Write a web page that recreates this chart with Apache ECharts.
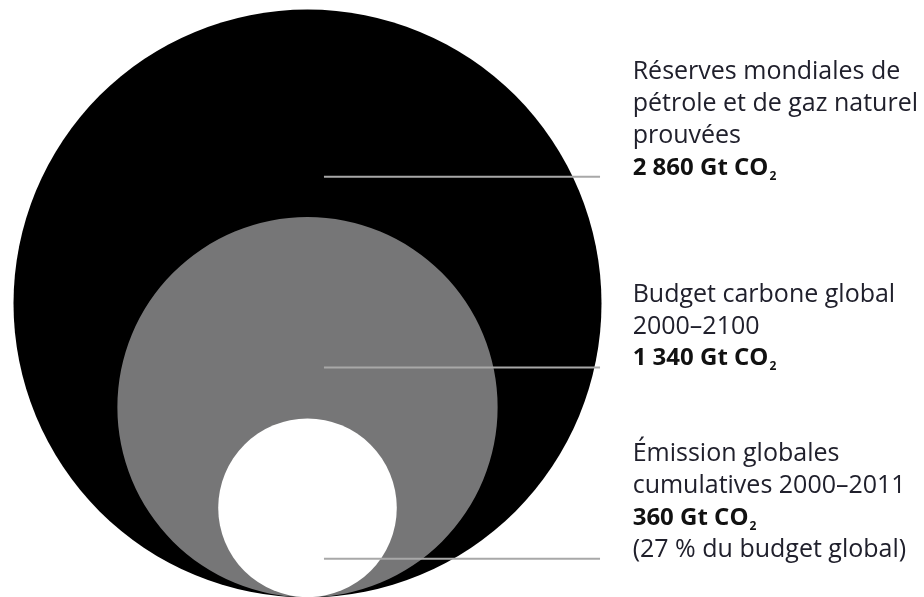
<!DOCTYPE html>
<html><head><meta charset="utf-8">
<script src="https://cdn.jsdelivr.net/npm/echarts@6/dist/echarts.min.js"></script>
<style>html,body{margin:0;padding:0;background:#fff}#c{width:924px;height:597px}</style>
</head><body><div id="c"></div>
<script>
// ---- data ----
const categories = ['Réserves mondiales de pétrole et de gaz naturel prouvées', 'Budget carbone global 2000–2100', 'Émission globales cumulatives 2000–2011'];
const descriptionLines = [
  ['Réserves mondiales de', 'pétrole et de gaz naturel', 'prouvées'],
  ['Budget carbone global', '2000–2100'],
  ['Émission globales', 'cumulatives 2000–2011']
];
const valuesGtCO2 = [2860, 1340, 360];
const unitLabel = 'Gt CO';
const unitSub = '2';
const shareNote = ['', '', '({p} % du budget global)'];

// ---- layout / style (not data) ----
const fills = ['#000000', '#767677', '#ffffff'];
const layout = {
  sizeExponent: 0.575,          // diameter ~ value^0.575
  leaderY: [0.716, 0.391, 0.065],
  leaderX0: 0.028, leaderX1: 0.4975, textX: 0.553
};
const maxV = Math.max.apply(null, valuesGtCO2);
function fmt(v) { return String(v).replace(/\B(?=(\d{3})+(?!\d))/g, ' '); }

const chart = echarts.init(document.getElementById('c'), null, {renderer: 'canvas'});
chart.setOption({
  animation: false,
  backgroundColor: '#ffffff',
  grid: {left: 13.5, top: 10, width: 588, height: 588},
  xAxis: {type: 'value', min: -0.5, max: 0.5, show: false},
  yAxis: {type: 'value', min: 0, max: 1, show: false},
  series: [{
    type: 'custom',
    coordinateSystem: 'cartesian2d',
    clip: false,
    data: valuesGtCO2.map((v, i) => ({name: categories[i], value: [v]})),
    encode: {x: [], y: []},
    renderItem: function (params, api) {
      const i = params.dataIndex;
      const v = api.value(0);
      const d = Math.pow(v / maxV, layout.sizeExponent);
      const c = api.coord([0, d / 2]);
      const r = api.size([d / 2, d / 2])[0];
      const ly = api.coord([0, layout.leaderY[i]])[1];
      const lx0 = api.coord([layout.leaderX0, 0])[0];
      const lx1 = api.coord([layout.leaderX1, 0])[0];
      const tx = api.coord([layout.textX, 0])[0];
      const lines = descriptionLines[i].slice();
      lines.push('{b|' + fmt(v) + ' ' + unitLabel + '}{s|' + unitSub + '}');
      if (shareNote[i]) {
        lines.push(shareNote[i].replace('{p}', Math.round(v / valuesGtCO2[1] * 100)));
      }
      return {
        type: 'group',
        children: [
          {type: 'circle', shape: {cx: c[0], cy: c[1], r: r}, style: {fill: fills[i]}},
          {type: 'line', shape: {x1: lx0, y1: ly, x2: lx1, y2: ly}, style: {stroke: '#a8a8a8', lineWidth: 2}},
          {type: 'text', style: {
            x: tx, y: ly + 7, text: lines.join('\n'),
            align: 'left', verticalAlign: 'bottom',
            fontFamily: 'Open Sans', fontSize: 25, fontWeight: 500, lineHeight: 32, fill: '#20202c',
            rich: {
              b: {fontFamily: 'Open Sans', fontSize: 24, fontWeight: 'bold', lineHeight: 32, fill: '#111111'},
              s: {fontFamily: 'Open Sans', fontSize: 12, fontWeight: 'bold', lineHeight: 12, padding: [17, 0, 0, 1], fill: '#111111'}
            }
          }}
        ]
      };
    }
  }]
});
</script></body></html>
